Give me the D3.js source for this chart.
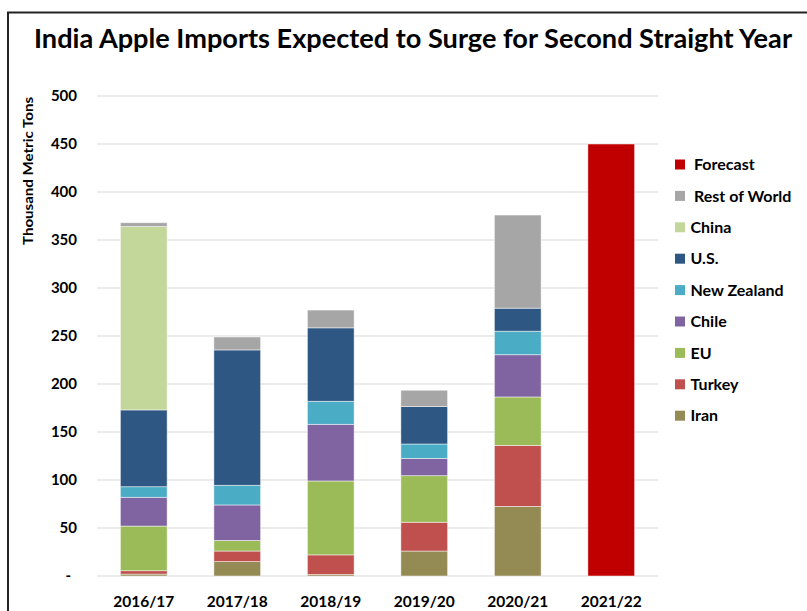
<!DOCTYPE html>
<html>
<head>
<meta charset="utf-8">
<script src="https://cdn.jsdelivr.net/npm/d3@7"></script>
<style>
  body { margin: 0; background: #fff; }
  svg { display: block; font-family: Lato, "Open Sans", sans-serif; }
</style>
</head>
<body>
<svg id="chart" width="807" height="611"></svg>
<script>
const years = ["2016/17", "2017/18", "2018/19", "2019/20", "2020/21", "2021/22"];
const origins = ["Iran", "Turkey", "EU", "Chile", "New Zealand", "U.S.", "China", "Rest of World", "Forecast"];

// thousand metric tons
const iran        = [2,    15,   1.5,  26,   72.5, 0];
const turkey      = [3.5,  11,   20.5, 30,   63.5, 0];
const eu          = [46.5, 11,   77,   48.5, 50.5, 0];
const chile       = [30,   37,   59,   18,   44,   0];
const newZealand  = [11,   20.5, 24,   15,   24.5, 0];
const us          = [80,   141,  76.5, 39,   24,   0];
const china       = [191,  0,    0,    0,    0,    0];
const restOfWorld = [4,    13.5, 18.5, 17,   97,   0];
const forecast    = [0,    0,    0,    0,    0,    450];

const yTicks = [0, 50, 100, 150, 200, 250, 300, 350, 400, 450, 500];

const colors = {
  "Iran": "#948a54",
  "Turkey": "#c0504d",
  "EU": "#9bbb59",
  "Chile": "#8064a2",
  "New Zealand": "#4bacc6",
  "U.S.": "#2f5784",
  "China": "#c4d79b",
  "Rest of World": "#a6a6a6",
  "Forecast": "#c00000"
};

const seriesValues = [iran, turkey, eu, chile, newZealand, us, china, restOfWorld, forecast];
const table = years.map((yr, i) => {
  const row = { year: yr };
  origins.forEach((o, j) => row[o] = seriesValues[j][i]);
  return row;
});

const svg = d3.select("#chart");

// frame (only top + left edges show)
svg.append("path")
  .attr("d", "M8,611 L8,12.5 L807,12.5")
  .attr("fill", "none")
  .attr("stroke", "#222")
  .attr("stroke-width", 2);

svg.append("text")
  .attr("x", 413).attr("y", 48)
  .attr("text-anchor", "middle")
  .attr("font-size", 27).attr("font-weight", "bold")
  .attr("textLength", 758).attr("lengthAdjust", "spacingAndGlyphs")
  .attr("fill", "#000")
  .text("India Apple Imports Expected to Surge for Second Straight Year");

const plotLeft = 97, plotRight = 658, plotTop = 96, plotBottom = 576;

const x = d3.scaleBand().domain(years).range([plotLeft, plotRight]).paddingInner(0.5).paddingOuter(0.25);
const y = d3.scaleLinear().domain([0, 500]).range([plotBottom, plotTop]);

// gridlines
svg.append("g")
  .selectAll("line")
  .data(yTicks)
  .join("line")
  .attr("x1", plotLeft).attr("x2", plotRight)
  .attr("y1", d => y(d)).attr("y2", d => y(d))
  .attr("stroke", "#d9d9d9").attr("stroke-width", 1);

// y axis labels
const yAxis = d3.axisLeft(y).tickValues(yTicks).tickSize(0).tickPadding(0)
  .tickFormat(d => d === 0 ? "-" : d);
const ya = svg.append("g").attr("transform", "translate(77,0)").call(yAxis);
ya.select(".domain").remove();
ya.selectAll("text")
  .attr("font-family", "Lato, sans-serif")
  .attr("font-size", 15).attr("font-weight", "bold").attr("fill", "#000");
ya.selectAll(".tick").filter(d => d === 0).select("text").attr("dx", "-6");

svg.append("text")
  .attr("transform", "translate(33,171) rotate(-90)")
  .attr("text-anchor", "middle")
  .attr("font-size", 13).attr("font-weight", "bold").attr("fill", "#000")
  .attr("textLength", 148).attr("lengthAdjust", "spacingAndGlyphs")
  .text("Thousand Metric Tons");

// stacked bars
const stack = d3.stack().keys(origins)(table);
svg.append("g")
  .selectAll("g")
  .data(stack)
  .join("g")
  .attr("fill", d => colors[d.key])
  .selectAll("rect")
  .data(d => d.filter(s => s[1] - s[0] > 0))
  .join("rect")
  .attr("x", d => x(d.data.year))
  .attr("width", x.bandwidth())
  .attr("y", d => y(d[1]))
  .attr("height", d => y(d[0]) - y(d[1]))
  .attr("stroke", "rgba(255,255,255,0.6)")
  .attr("stroke-width", 0.8);

// x axis labels
const xAxis = d3.axisBottom(x).tickSize(0).tickPadding(0);
const xa = svg.append("g").attr("transform", "translate(0,607)").call(xAxis);
xa.select(".domain").remove();
xa.selectAll("text")
  .attr("font-family", "Lato, sans-serif")
  .attr("font-size", 15.5).attr("font-weight", "bold").attr("fill", "#000")
  .attr("dy", 0);

// legend
const legendItems = origins.slice().reverse();
const lg = svg.append("g")
  .selectAll("g")
  .data(legendItems)
  .join("g")
  .attr("transform", (d, i) => `translate(675,${164.5 + i * 31.4})`);
lg.append("rect")
  .attr("x", 0).attr("y", -5).attr("width", 10).attr("height", 10)
  .attr("fill", d => colors[d]);
lg.append("text")
  .attr("x", d => (d === "Forecast" || d === "Rest of World") ? 19 : 15.5)
  .attr("dy", "0.36em")
  .attr("font-size", 16).attr("font-weight", "bold").attr("fill", "#000")
  .text(d => d);
</script>
</body>
</html>
